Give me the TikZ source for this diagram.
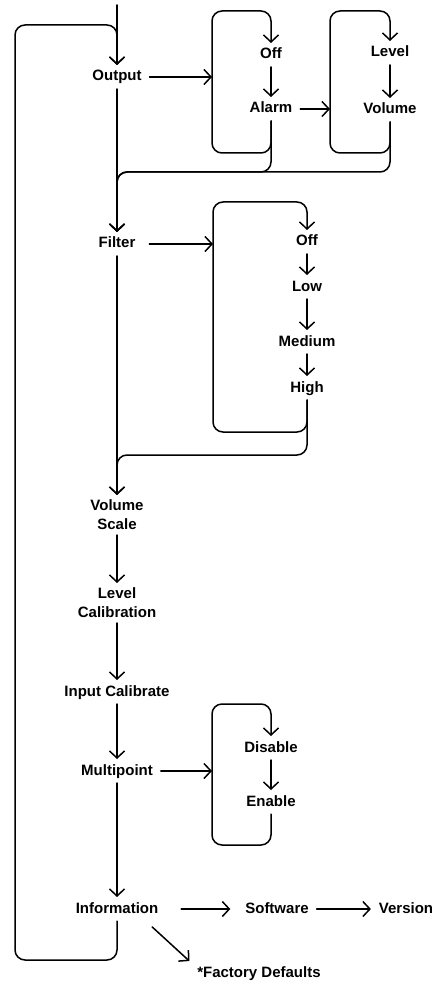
\documentclass[tikz,border=0pt]{standalone}
\usepackage{fontspec}
\setmainfont{Liberation Sans}
\usetikzlibrary{arrows.meta}
\begin{document}
\begin{tikzpicture}[x=1pt,y=-1pt,
  base/.style={font=\bfseries\fontsize{15}{19}\selectfont, inner sep=0pt, outer ysep=5pt, outer xsep=8pt, align=center},
  lbl/.style={base, text height=11pt, text depth=3pt},
  mlbl/.style={base},
  conn/.style={line width=1.5pt, line cap=round, line join=round},
  arr/.style={conn, -{Straight Barb[length=7pt,width=15pt,line width=1.5pt]}},
  loop/.style={arr, rounded corners=10pt}]
\useasboundingbox (0,0) rectangle (440,981);
% nodes
\node[lbl] (out) at (117,77) {Output};
\node[lbl] (off1) at (271,55) {Off};
\node[lbl] (alarm) at (271,109) {Alarm};
\node[lbl] (level) at (390,53) {Level};
\node[lbl] (volume) at (390,110) {Volume};
\node[lbl] (filter) at (117,244) {Filter};
\node[lbl] (off2) at (307,242) {Off};
\node[lbl] (low) at (307,287) {Low};
\node[lbl] (medium) at (307,342) {Medium};
\node[lbl] (high) at (307,388) {High};
\node[mlbl] (vscale) at (117,515) {Volume\\Scale};
\node[mlbl] (lcal) at (117,603) {Level\\Calibration};
\node[lbl] (incal) at (117,692) {Input Calibrate};
\node[lbl] (multi) at (117,771) {Multipoint};
\node[lbl] (disable) at (271,748) {Disable};
\node[lbl] (enable) at (271,802) {Enable};
\node[lbl] (info) at (117,909) {Information};
\node[lbl] (soft) at (277,909) {Software};
\node[lbl] (version) at (406,909) {Version};
\node[lbl] (factory) at (259,973) {*Factory Defaults};
% free ends
\coordinate (top) at (117,5);
\coordinate (box1) at (212,77);
\coordinate (box2) at (330,109);
\coordinate (box3) at (213,244);
\coordinate (box4) at (212,771);
% entry and big loop
\draw[arr] (top) -- (out.north);
\draw[loop] (info.south) -- (117,960) -- (15,960) -- (15,25) -- (117,25) -- (out.north);
% output submenu
\draw[arr] (out) -- (box1);
\draw[loop] (alarm.south) -- (271,153) -- (212,153) -- (212,11) -- (271,11) -- (off1.north);
\draw[arr] (off1) -- (alarm);
\draw[arr] (alarm) -- (box2);
\draw[loop] (volume.south) -- (390,153) -- (330,153) -- (330,11) -- (390,11) -- (level.north);
\draw[arr] (level) -- (volume);
\draw[loop] (volume.south) -- (390,172) -- (117,172) -- (filter.north);
\draw[loop] (alarm.south) -- (271,172) -- (117,172) -- (filter.north);
\draw[arr] (out) -- (filter);
% filter submenu
\draw[arr, shorten <=6pt] (filter) -- (box3);
\draw[loop] (high.south) -- (307,432) -- (213,432) -- (213,202) -- (307,202) -- (off2.north);
\draw[arr] (off2) -- (low);
\draw[arr] (low) -- (medium);
\draw[arr] (medium) -- (high);
\draw[loop] (high.south) -- (307,455) -- (117,455) -- (vscale.north);
\draw[arr] (filter) -- (vscale);
% main column
\draw[arr] (vscale) -- (lcal);
\draw[arr] (lcal) -- (incal);
\draw[arr] (incal) -- (multi);
\draw[arr] (multi) -- (info);
% multipoint submenu
\draw[arr] (multi) -- (box4);
\draw[loop] (enable.south) -- (271,845) -- (212,845) -- (212,704) -- (271,704) -- (disable.north);
\draw[arr] (disable) -- (enable);
% information
\draw[arr, shorten <=15pt, shorten >=7pt] (info) -- (soft);
\draw[arr] (soft) -- (version);
\draw[arr] ([shift={(-14,6)}]info.south east) -- (factory.north west);
\end{tikzpicture}
\end{document}
